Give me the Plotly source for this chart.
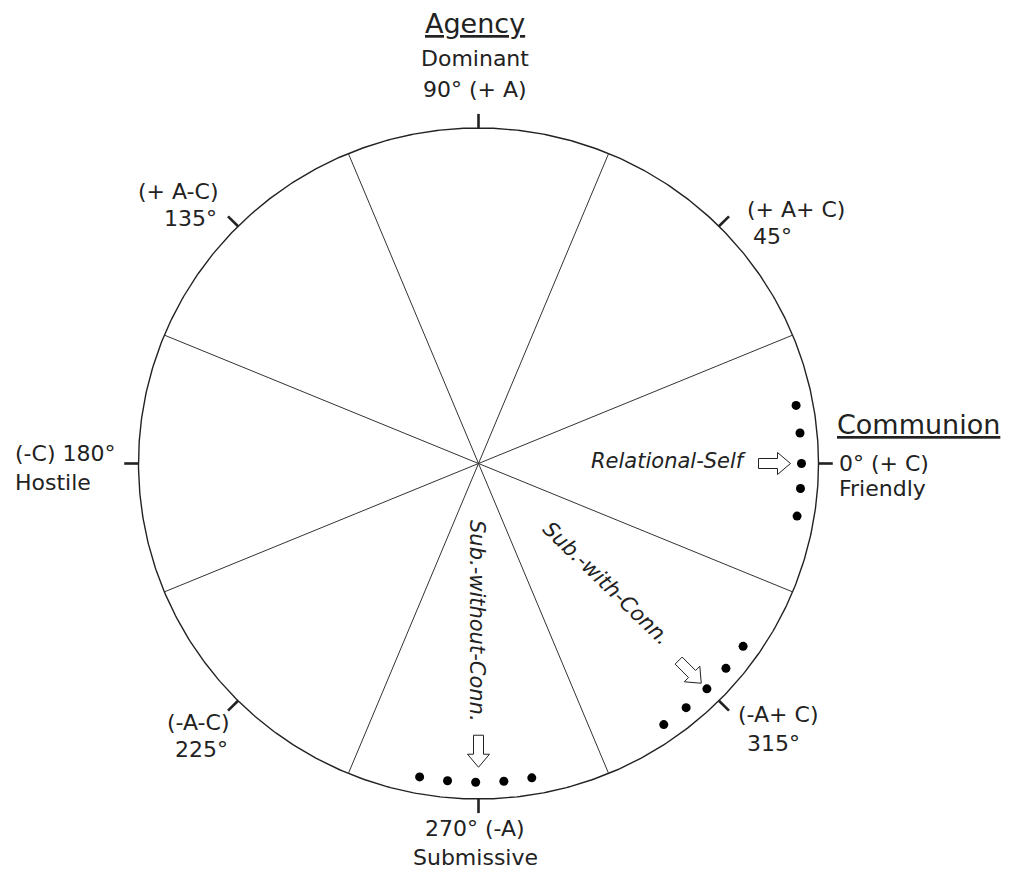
import numpy as np
import plotly.graph_objects as go

# ---------------- data ----------------
tick_angles = [0, 45, 90, 135, 180, 225, 270, 315]
divider_angles = [22.5, 67.5, 112.5, 157.5, 202.5, 247.5, 292.5, 337.5]

group_names = ["Relational-Self", "Sub.-with-Conn.", "Sub.-without-Conn."]
group_center_angles = [0, 315, 270]
relational_self_angles = [10.5, 5.5, 0, -4.5, -9.5]
sub_with_conn_angles = [325, 320, 315, 310, 305]
sub_without_conn_angles = [259.5, 264.5, 269.5, 274.5, 279.5]
point_radius = 0.95

octant_labels = [
    "<u>Agency</u>", "Dominant", "90° (+ A)",
    "(+ A+ C)", "45°",
    "(+ A-C)", "135°",
    "(-C) 180°", "Hostile",
    "(-A-C)", "225°",
    "270° (-A)", "Submissive",
    "(-A+ C)", "315°",
    "<u>Communion</u>", "0° (+ C)", "Friendly",
]

# ---------------- geometry / layout ----------------
W, H = 1012, 871
CX, CY = 478.5, 463.5     # pixel centre of circle
RX, RY = 340.0, 335.5     # pixel radius of circle
FONT = "DejaVu Sans"
INK = "#222222"


def polar_xy(angle_deg, r):
    a = np.radians(np.asarray(angle_deg, dtype=float))
    return r * np.cos(a), r * np.sin(a)


def to_px(x, y):
    return CX + RX * x, CY - RY * y


def to_data(px, py):
    return (np.asarray(px) - CX) / RX, (CY - np.asarray(py)) / RY


fig = go.Figure()

# outer circle
th = np.linspace(0, 360, 721)
cx_, cy_ = polar_xy(th, 1.0)
fig.add_trace(go.Scatter(x=cx_, y=cy_, mode="lines",
                         line=dict(color=INK, width=1.4), hoverinfo="skip"))

# octant dividers
dx, dy = [], []
for a in divider_angles:
    ex, ey = polar_xy(a, 1.0)
    dx += [0, float(ex), None]
    dy += [0, float(ey), None]
fig.add_trace(go.Scatter(x=dx, y=dy, mode="lines",
                         line=dict(color="#333333", width=1), hoverinfo="skip"))

# tick marks
tx, ty = [], []
for a in tick_angles:
    x0, y0 = polar_xy(a, 1.0)
    x1, y1 = polar_xy(a, 1.042)
    tx += [float(x0), float(x1), None]
    ty += [float(y0), float(y1), None]
fig.add_trace(go.Scatter(x=tx, y=ty, mode="lines",
                         line=dict(color=INK, width=2.6), hoverinfo="skip"))

# points
for angs in [relational_self_angles, sub_with_conn_angles, sub_without_conn_angles]:
    px_, py_ = polar_xy(angs, [point_radius] * len(angs))
    fig.add_trace(go.Scatter(x=px_, y=py_, mode="markers",
                             marker=dict(color="black", size=9), hoverinfo="skip"))

# hollow block arrows pointing radially at the middle point of each group
arrow_gaps = [11, 8, 15]
for ca, gap in zip(group_center_angles, arrow_gaps):
    mx, my = polar_xy(ca, point_radius)
    mpx, mpy = to_px(mx, my)
    d = np.array([np.cos(np.radians(ca)), -np.sin(np.radians(ca))])  # screen dir
    n = np.array([-d[1], d[0]])
    tip = np.array([mpx, mpy]) - gap * d
    L, sw, hw, hl = 32, 10, 22, 13
    pts = [tip,
           tip - d * hl + n * hw / 2,
           tip - d * hl + n * sw / 2,
           tip - d * L + n * sw / 2,
           tip - d * L - n * sw / 2,
           tip - d * hl - n * sw / 2,
           tip - d * hl - n * hw / 2,
           tip]
    pts = np.array(pts)
    ax_, ay_ = to_data(pts[:, 0], pts[:, 1])
    fig.add_trace(go.Scatter(x=ax_, y=ay_, mode="lines", fill="toself",
                             fillcolor="white", line=dict(color=INK, width=1),
                             hoverinfo="skip"))

# octant labels: (x_px, y_px, xanchor, size)
label_pos = [
    (475, 23, "center", 27), (475, 58, "center", 22), (475, 89, "center", 22),
    (745, 209, "left", 22), (751, 237, "left", 22),
    (220, 191, "right", 22), (219, 218, "right", 22),
    (13, 453, "left", 22), (13, 482, "left", 22),
    (232, 722, "right", 22), (230, 749, "right", 22),
    (475, 828, "center", 22), (475, 857, "center", 22),
    (736, 714, "left", 22), (745, 743, "left", 22),
    (835, 425, "left", 27), (837, 463, "left", 22), (837, 488, "left", 22),
]
for txt, (lx, ly, anc, sz) in zip(octant_labels, label_pos):
    fig.add_annotation(x=lx / W, y=1 - ly / H, xref="paper", yref="paper",
                       text=txt, showarrow=False, xanchor=anc, yanchor="middle",
                       font=dict(family=FONT, size=sz, color=INK))

# group labels (italic)
group_label_pos = [(749, 461, "right", 0), (606, 583, "center", 44), (477, 621, "center", 90)]
for txt, (lx, ly, anc, ang) in zip(group_names, group_label_pos):
    fig.add_annotation(x=lx / W, y=1 - ly / H, xref="paper", yref="paper",
                       text="<i>" + txt + "</i>", showarrow=False, xanchor=anc,
                       yanchor="middle", textangle=ang,
                       font=dict(family=FONT, size=21, color=INK))

x0, _ = to_data(0, 0)
x1, _ = to_data(W, 0)
_, y0 = to_data(0, H)
_, y1 = to_data(0, 0)
fig.update_layout(
    width=W, height=H, margin=dict(l=0, r=0, t=0, b=0),
    paper_bgcolor="white", plot_bgcolor="white", showlegend=False,
    xaxis=dict(range=[float(x0), float(x1)], visible=False, fixedrange=True),
    yaxis=dict(range=[float(y0), float(y1)], visible=False, fixedrange=True),
)
fig.write_html(
    "out.html",
    config={"displayModeBar": False},
    post_script="document.body.style.margin='0';document.body.style.overflow='hidden';",
)
